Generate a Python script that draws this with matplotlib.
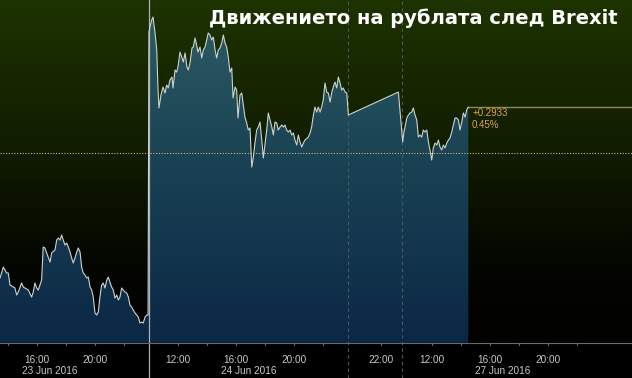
import numpy as np
import matplotlib
matplotlib.use("Agg")
import matplotlib.pyplot as plt
from matplotlib.colors import LinearSegmentedColormap
from matplotlib.transforms import blended_transform_factory

TITLE = "Движението на рублата след Brexit"

# Ось времени: торговые часы от 23 Jun 10:00 (MSK), ночные и выходные паузы вырезаны
hours = [
    3.45, 3.68, 3.79, 3.91, 4.02, 4.14, 4.37, 4.48, 4.60, 4.71,
    4.94, 5.06, 5.17, 5.40, 5.63, 5.74, 5.86, 5.98, 6.09, 6.32,
    6.43, 6.55, 6.67, 6.90, 7.01, 7.24, 7.36, 7.47, 7.59, 7.70,
    7.81, 7.93, 8.05, 8.16, 8.28, 8.39, 8.50, 8.62, 8.74, 8.85,
    8.97, 9.08, 9.19, 9.31, 9.43, 9.54, 9.66, 9.77, 9.88, 10.00,
    10.12, 10.23, 10.34, 10.46, 10.57, 10.69, 10.81, 10.92, 11.03, 11.15,
    11.26, 11.38, 11.50, 11.61, 11.72, 11.84, 11.95, 12.07, 12.19, 12.30,
    12.41, 12.53, 12.64, 12.76, 12.88, 12.99, 13.10, 13.22, 13.33, 13.45,
    13.57, 13.66,
    # 24 Jun
    13.72, 13.79, 13.91, 14.00, 14.14, 14.26, 14.34, 14.41, 14.55, 14.69,
    14.83, 14.94, 15.05, 15.17, 15.31, 15.38, 15.52, 15.63, 15.72, 15.86,
    15.98, 16.09, 16.21, 16.34, 16.43, 16.55, 16.69, 16.78, 16.90, 17.01,
    17.10, 17.24, 17.36, 17.47, 17.59, 17.70, 17.81, 17.93, 18.05, 18.16,
    18.28, 18.39, 18.50, 18.62, 18.74, 18.85, 18.97, 19.08, 19.19, 19.31,
    19.43, 19.52, 19.66, 19.77, 19.86, 20.00, 20.12, 20.21, 20.34, 20.46,
    20.57, 20.69, 20.81, 20.92, 21.03, 21.15, 21.26, 21.38, 21.50, 21.61,
    21.72, 21.84, 21.95, 22.07, 22.19, 22.30, 22.41, 22.53, 22.64, 22.76,
    22.88, 22.99, 23.10, 23.22, 23.33, 23.45, 23.57, 23.68, 23.79, 23.91,
    24.02, 24.14, 24.26, 24.37, 24.48, 24.71, 24.83, 24.94, 25.06, 25.17,
    25.29, 25.40, 25.52, 25.63, 25.74, 25.86, 25.98, 26.09, 26.21, 26.32,
    26.43, 26.55, 26.67, 26.78, 26.90, 27.01, 27.12, 27.24, 27.36, 27.47,
    # 26 Jun
    30.92,
    # 27 Jun
    31.22, 31.30, 31.38, 31.50, 31.61, 31.72, 31.84, 31.95, 32.07, 32.19,
    32.30, 32.41, 32.53, 32.64, 32.76, 32.88, 32.99, 33.10, 33.22, 33.33,
    33.45, 33.57, 33.68, 33.79, 33.91, 34.02, 34.14, 34.26, 34.37, 34.48,
    34.60, 34.71, 34.83, 34.94, 35.06, 35.17, 35.29, 35.40, 35.52, 35.63,
    35.74,
]

prices = [
    64.380, 64.450, 64.431, 64.412, 64.412, 64.335, 64.322, 64.316, 64.271, 64.290,
    64.348, 64.322, 64.316, 64.303, 64.258, 64.290, 64.348, 64.316, 64.303, 64.367,
    64.578, 64.572, 64.540, 64.482, 64.540, 64.559, 64.623, 64.636, 64.623, 64.655,
    64.623, 64.591, 64.604, 64.578, 64.546, 64.508, 64.476, 64.508, 64.546, 64.572,
    64.546, 64.450, 64.412, 64.399, 64.380, 64.386, 64.322, 64.303, 64.258, 64.156,
    64.143, 64.162, 64.258, 64.335, 64.348, 64.316, 64.367, 64.386, 64.354, 64.322,
    64.303, 64.252, 64.271, 64.239, 64.258, 64.316, 64.303, 64.290, 64.284, 64.258,
    64.207, 64.194, 64.175, 64.156, 64.143, 64.130, 64.092, 64.098, 64.092, 64.130,
    64.143, 64.143,
    # 24 Jun
    65.954, 65.986, 66.031, 66.050, 65.948, 65.839, 65.602, 65.468, 65.551, 65.602,
    65.564, 65.615, 65.596, 65.647, 65.666, 65.596, 65.711, 65.698, 65.730, 65.826,
    65.794, 65.762, 65.820, 65.730, 65.711, 65.756, 65.852, 65.858, 65.916, 65.871,
    65.826, 65.858, 65.788, 65.839, 65.858, 65.903, 65.948, 65.935, 65.903, 65.922,
    65.839, 65.788, 65.839, 65.852, 65.884, 65.935, 65.884, 65.858, 65.794, 65.698,
    65.724, 65.532, 65.602, 65.583, 65.404, 65.551, 65.564, 65.500, 65.410, 65.372,
    65.327, 65.340, 65.090, 65.154, 65.244, 65.327, 65.346, 65.378, 65.263, 65.148,
    65.231, 65.327, 65.436, 65.391, 65.346, 65.295, 65.378, 65.372, 65.327, 65.346,
    65.359, 65.346, 65.359, 65.327, 65.314, 65.327, 65.295, 65.308, 65.263, 65.231,
    65.295, 65.250, 65.218, 65.244, 65.263, 65.282, 65.308, 65.346, 65.423, 65.474,
    65.442, 65.474, 65.442, 65.474, 65.519, 65.628, 65.570, 65.564, 65.506, 65.564,
    65.602, 65.634, 65.596, 65.666, 65.628, 65.583, 65.596, 65.570, 65.564, 65.423,
    # 26 Jun
    65.570,
    # 27 Jun
    65.250, 65.314, 65.346, 65.404, 65.423, 65.436, 65.442, 65.468, 65.423, 65.391,
    65.282, 65.295, 65.282, 65.327, 65.314, 65.327, 65.250, 65.199, 65.135, 65.212,
    65.244, 65.231, 65.263, 65.218, 65.199, 65.231, 65.212, 65.244, 65.263, 65.276,
    65.314, 65.359, 65.404, 65.404, 65.391, 65.327, 65.378, 65.436, 65.410, 65.455,
    65.4733,
]

prev_close = 65.18

tick_hours = [6.0, 10.0, 15.72, 19.72, 23.72, 29.72, 33.25, 37.25, 41.25]
tick_labels = ["16:00", "20:00", "12:00", "16:00", "20:00", "22:00", "12:00", "16:00", "20:00"]
minor_hours = [4.0, 8.0, 12.0, 17.72, 21.72, 25.72, 35.25, 39.25, 43.25]
date_hours = [6.0, 19.72, 37.25]
date_labels = ["23 Jun 2016", "24 Jun 2016", "27 Jun 2016"]
session_breaks = [13.72, 27.47, 31.20]

x_lo, x_hi = 3.45, 47.03
y_lo, y_hi = 63.74, 66.159
axis_y = 63.964

fig = plt.figure(figsize=(6.32, 3.78), dpi=100)
ax = fig.add_axes([0, 0, 1, 1])
ax.set_xlim(x_lo, x_hi)
ax.set_ylim(y_lo, y_hi)
ax.axis("off")

# фон: тёмно-оливковый сверху -> чёрный
bg_cmap = LinearSegmentedColormap.from_list(
    "bg", [(0, "#1d3300"), (0.4, "#111c00"), (0.7, "#040600"), (1, "#000000")])
grad = np.linspace(0, 1, 256).reshape(-1, 1)
ax.imshow(grad, cmap=bg_cmap, extent=[x_lo, x_hi, y_lo, y_hi], origin="upper",
          aspect="auto", zorder=0)

# заливка под линией с градиентом
fill_cmap = LinearSegmentedColormap.from_list(
    "fill", [(0, "#2f5e64"), (0.45, "#1a4354"), (1, "#0b2746")])
poly = ax.fill_between(hours, prices, axis_y, facecolor="none", edgecolor="none")
im = ax.imshow(grad, cmap=fill_cmap, extent=[x_lo, x_hi, axis_y, y_hi], origin="upper",
               aspect="auto", zorder=1)
im.set_clip_path(poly.get_paths()[0], transform=ax.transData)

# нижняя полоса оси
ax.axhspan(y_lo, axis_y, color="black", zorder=2)
ax.axhline(axis_y, color="#6a6a6a", lw=0.8, zorder=3)

# разделители сессий
ax.axvline(session_breaks[0], color="#b0b0b0", lw=0.9, zorder=2.5)
for xb in session_breaks[1:]:
    ax.axvline(xb, color="#4a5a5a", lw=0.8, ls=(0, (3, 3)), zorder=2.5)

# уровень предыдущего закрытия
ax.axhline(prev_close, color="#cdb980", lw=0.8, ls=(0, (1, 1.5)), zorder=3)

ax.plot(hours, prices, color="#ccd2ce", lw=0.8, zorder=4)

# последний уровень
last = prices[-1]
ax.plot([hours[-1], x_hi], [last, last], color="#8c8c58", lw=1.0, zorder=3)
change = last - prev_close
pct = change / prev_close * 100
ax.annotate(f"{change:+.4f}", xy=(hours[-1], last), xytext=(2.7, -4.3),
            textcoords="offset points", ha="left", va="center",
            color="#e0a040", fontsize=7, family="Liberation Sans", zorder=5)
ax.annotate(f"{pct:.2f}%", xy=(hours[-1], last), xytext=(2.7, -13),
            textcoords="offset points", ha="left", va="center",
            color="#e0a040", fontsize=7, family="Liberation Sans", zorder=5)

# подписи оси
trans = blended_transform_factory(ax.transData, ax.transAxes)
for xt, lab in zip(tick_hours, tick_labels):
    ax.text(xt, 0.0476, lab, transform=trans, ha="center", va="center",
            color="#c8c8c8", fontsize=7.2, family="Liberation Sans", zorder=5)
for xt, lab in zip(date_hours, date_labels):
    ax.text(xt - 1.05, 0.0185, lab, transform=trans, ha="left", va="center",
            color="#c8c8c8", fontsize=7.2, family="Liberation Sans", zorder=5)
for xt in tick_hours + minor_hours:
    ax.plot([xt, xt], [axis_y, axis_y - 0.01], color="#6a6a6a", lw=0.8, zorder=3)

ax.text(0.978, 0.978, TITLE, transform=ax.transAxes, ha="right", va="top",
        color="white", fontsize=14, fontweight="bold", family="DejaVu Sans", zorder=6)

fig.savefig("out.png", dpi=100, facecolor="black")
